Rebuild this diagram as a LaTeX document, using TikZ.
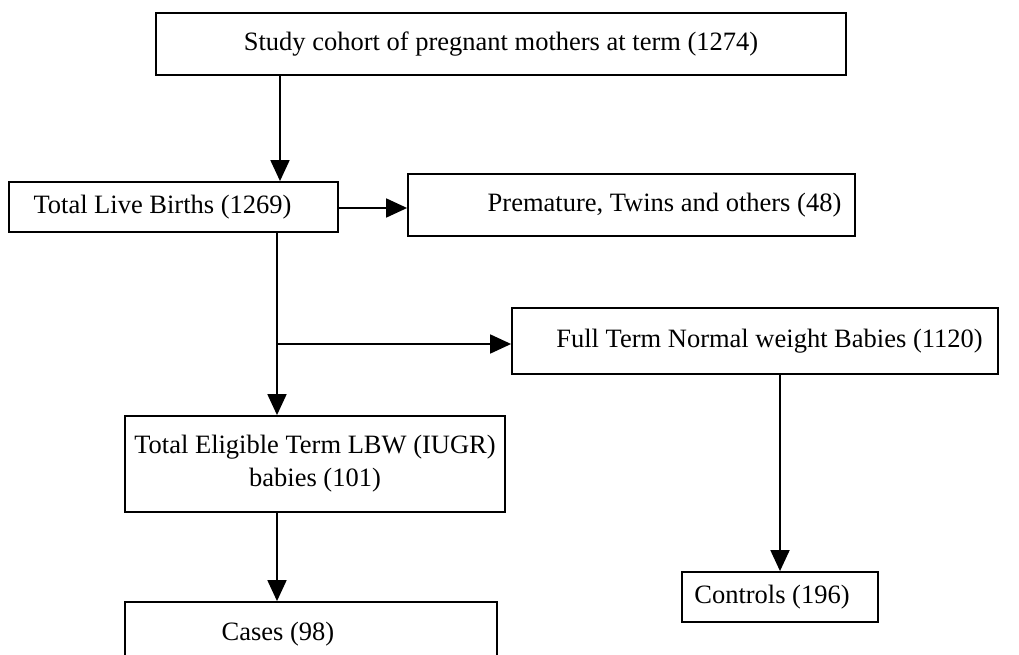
\documentclass[tikz,border=0pt]{standalone}
\usepackage{fontspec}
\setmainfont{Liberation Serif}
\usetikzlibrary{arrows.meta}
\tikzset{stage/.style={draw, line width=1.8pt, inner sep=0pt, align=center, font=\fontsize{26.5}{33}\selectfont}}
\tikzset{flow/.style={line width=1.8pt, -{Triangle[length=21pt, width=19pt]}}}
\tikzset{stem/.style={line width=1.8pt}}

\begin{document}
\begin{tikzpicture}[x=1pt, y=-1pt]
  \useasboundingbox (0,0) rectangle (1019,655);
  % boxes
  \node[stage, minimum width=690pt, minimum height=62pt] (cohort) at (501,44) {\raisebox{4pt}{Study cohort of pregnant mothers at term (1274)}};
  \node[stage, minimum width=329pt, minimum height=50pt] (births) at (173.5,207) {\hspace*{-22pt}Total Live Births (1269)};
  \node[stage, minimum width=447pt, minimum height=62pt] (premature) at (631.5,205) {\hspace*{66pt}Premature, Twins and others (48)};
  \node[stage, minimum width=486pt, minimum height=66pt] (fullterm) at (755,341) {\hspace*{29pt}\raisebox{6pt}{Full Term Normal weight Babies (1120)}};
  \node[stage, minimum width=380pt, minimum height=96pt] (eligible) at (315,464) {Total Eligible Term LBW (IUGR)\\babies (101)};
  \node[stage, minimum width=372pt, minimum height=64pt] (cases) at (311,634) {\hspace*{-66pt}\raisebox{6pt}{Cases (98)}};
  \node[stage, minimum width=196pt, minimum height=50pt] (controls) at (780,597) {\hspace*{-16pt}Controls (196)};
  % connectors
  \coordinate (drop) at (280,0);
  \coordinate (spine) at (277,0);
  \coordinate (fork) at (277,344);
  \coordinate (tap) at (780,0);
  \draw[flow] (cohort.south -| drop) -- (births.north -| drop);
  \draw[flow] (births.east |- 0,208) -- (premature.west |- 0,208);
  \draw[stem] (births.south -| spine) -- (fork);
  \draw[flow] (fork) -- (eligible.north -| spine);
  \draw[flow] (fork) -- (fullterm.west |- fork);
  \draw[flow] (eligible.south -| spine) -- (cases.north -| spine);
  \draw[flow] (fullterm.south -| tap) -- (controls.north -| tap);
\end{tikzpicture}
\end{document}
